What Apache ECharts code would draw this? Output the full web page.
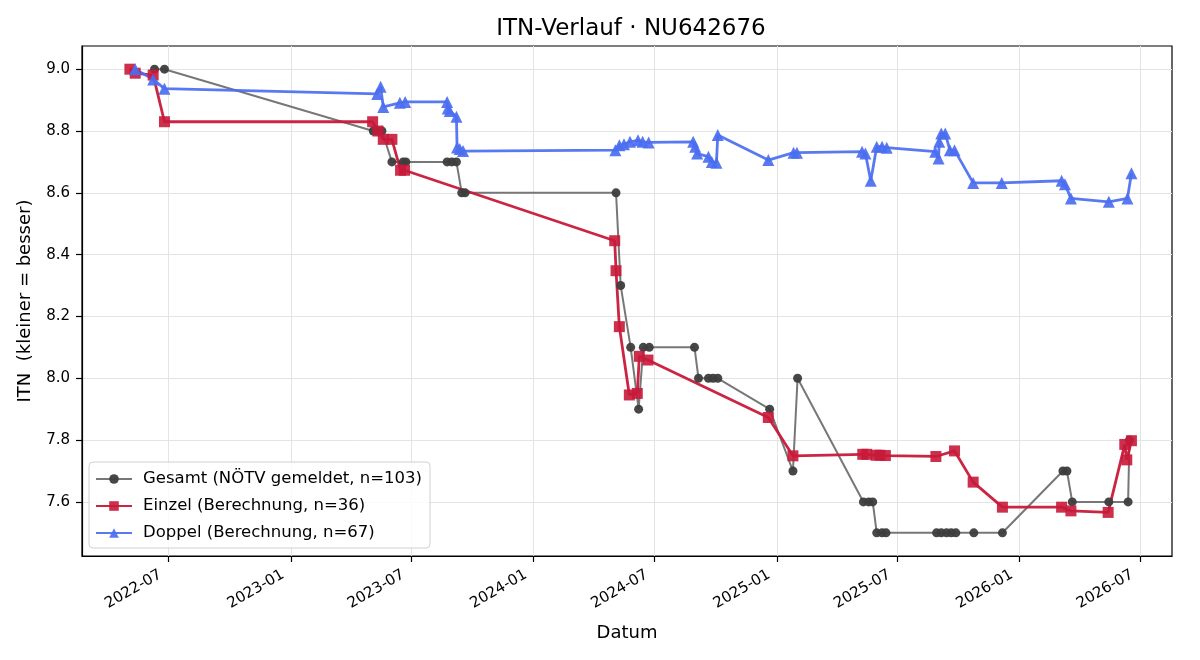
<!DOCTYPE html>
<html lang="de">
<head>
<meta charset="UTF-8">
<title>ITN-Verlauf</title>
<script src="https://cdn.jsdelivr.net/npm/echarts@6.0.0/dist/echarts.min.js"></script>
<style>
  html, body { margin: 0; padding: 0; background: #fff; }
  #chart { width: 1200px; height: 660px; }
</style>
</head>
<body>
<div id="chart"></div>
<script>
// Gesamt (NÖTV gemeldet)
var gesamtDates = [
  '2022-06-10', '2022-06-25', '2023-05-05', '2023-05-12', '2023-05-18', '2023-06-02',
  '2023-06-19', '2023-06-23', '2023-08-24', '2023-08-31', '2023-09-07', '2023-09-15',
  '2023-09-20', '2024-05-04', '2024-05-11', '2024-05-26', '2024-06-07', '2024-06-14',
  '2024-06-23', '2024-08-30', '2024-09-05', '2024-09-20', '2024-09-27', '2024-10-04',
  '2024-12-21', '2025-01-25', '2025-02-01', '2025-05-11', '2025-05-19', '2025-05-25',
  '2025-05-31', '2025-06-08', '2025-06-14', '2025-08-29', '2025-09-05', '2025-09-13',
  '2025-09-20', '2025-09-27', '2025-10-24', '2025-12-06', '2026-03-07', '2026-03-13',
  '2026-03-21', '2026-05-15', '2026-06-13', '2026-06-15'
];
var gesamtItn = [
  9.0, 9.0, 8.8, 8.8, 8.8, 8.7,
  8.7, 8.7, 8.7, 8.7, 8.7, 8.6,
  8.6, 8.6, 8.3, 8.1, 7.9, 8.1,
  8.1, 8.1, 8.0, 8.0, 8.0, 8.0,
  7.9, 7.7, 8.0, 7.6, 7.6, 7.6,
  7.5, 7.5, 7.5, 7.5, 7.5, 7.5,
  7.5, 7.5, 7.5, 7.5, 7.7, 7.7,
  7.6, 7.6, 7.6, 7.8
];

// Einzel (Berechnung)
var einzelDates = [
  '2022-05-04', '2022-05-12', '2022-06-08', '2022-06-25', '2023-05-04', '2023-05-12',
  '2023-05-20', '2023-06-02', '2023-06-15', '2023-06-21', '2024-05-02', '2024-05-04',
  '2024-05-09', '2024-05-24', '2024-06-05', '2024-06-08', '2024-06-21', '2024-12-19',
  '2025-01-25', '2025-05-10', '2025-05-16', '2025-05-30', '2025-06-05', '2025-06-13',
  '2025-08-28', '2025-09-25', '2025-10-23', '2025-12-06', '2026-03-05', '2026-03-19',
  '2026-05-14', '2026-06-08', '2026-06-11', '2026-06-18'
];
var einzelItn = [
  9.0, 8.987, 8.981, 8.83, 8.83, 8.80,
  8.773, 8.773, 8.673, 8.673, 8.445, 8.348,
  8.167, 7.946, 7.951, 8.071, 8.059, 7.873,
  7.749, 7.754, 7.754, 7.751, 7.751, 7.75,
  7.747, 7.765, 7.664, 7.583, 7.583, 7.571,
  7.566, 7.786, 7.736, 7.798
];

// Doppel (Berechnung)
var doppelDates = [
  '2022-05-12', '2022-06-08', '2022-06-25', '2023-05-11', '2023-05-16', '2023-05-20',
  '2023-06-14', '2023-06-22', '2023-08-24', '2023-08-25', '2023-08-28', '2023-09-07',
  '2023-09-08', '2023-09-12', '2023-09-17', '2024-05-03', '2024-05-09', '2024-05-16',
  '2024-05-25', '2024-06-06', '2024-06-13', '2024-06-22', '2024-08-28', '2024-08-31',
  '2024-09-03', '2024-09-20', '2024-09-25', '2024-10-02', '2024-10-04', '2024-12-19',
  '2025-01-26', '2025-01-31', '2025-05-09', '2025-05-14', '2025-05-22', '2025-05-31',
  '2025-06-08', '2025-06-15', '2025-08-27', '2025-09-01', '2025-09-02', '2025-09-05',
  '2025-09-11', '2025-09-18', '2025-09-25', '2025-10-23', '2025-12-05', '2026-03-05',
  '2026-03-10', '2026-03-19', '2026-05-15', '2026-06-12', '2026-06-18'
];
var doppelItn = [
  9.0, 8.967, 8.937, 8.92, 8.943, 8.878,
  8.891, 8.894, 8.894, 8.873, 8.865, 8.846,
  8.747, 8.742, 8.735, 8.738, 8.754, 8.757,
  8.765, 8.77, 8.765, 8.763, 8.765, 8.749,
  8.727, 8.717, 8.70, 8.697, 8.787, 8.706,
  8.73, 8.73, 8.733, 8.727, 8.639, 8.749,
  8.749, 8.746, 8.733, 8.711, 8.765, 8.792,
  8.792, 8.738, 8.738, 8.632, 8.632, 8.639,
  8.628, 8.582, 8.571, 8.582, 8.663
];

var xTicks = ['2022-07-01', '2023-01-01', '2023-07-01', '2024-01-01', '2024-07-01',
              '2025-01-01', '2025-07-01', '2026-01-01', '2026-07-01'];
var yTicks = [7.6, 7.8, 8.0, 8.2, 8.4, 8.6, 8.8, 9.0];

var FONT = 'DejaVu Sans';

function ts(d) {
  return +echarts.time.parse(d);
}

function zip(dates, vals) {
  return dates.map(function (d, i) { return [ts(d), vals[i]]; });
}

var xTickValues = xTicks.map(ts);

var chart = echarts.init(document.getElementById('chart'), null, { renderer: 'canvas' });

chart.setOption({
  animation: false,
  backgroundColor: '#fff',
  textStyle: { fontFamily: FONT },
  title: {
    text: 'ITN-Verlauf · NU642676',
    left: 626,
    top: 13,
    textAlign: 'center',
    textStyle: { fontFamily: FONT, fontSize: 23, fontWeight: 'normal', color: '#000' }
  },
  grid: {
    left: 82, right: 28, top: 46, bottom: 104,
    show: true, borderColor: '#000', borderWidth: 1.2
  },
  legend: {
    left: 89,
    top: 462,
    orient: 'vertical',
    itemWidth: 36,
    itemHeight: 12,
    itemGap: 9,
    padding: [8, 8, 6, 6],
    backgroundColor: 'rgba(255,255,255,0.8)',
    borderColor: '#d0d0d0',
    borderWidth: 1,
    borderRadius: 4,
    textStyle: { fontFamily: FONT, fontSize: 16.5, color: '#000', padding: [0, 0, 0, 6], lineHeight: 18 },
    data: ['Gesamt (NÖTV gemeldet, n=103)', 'Einzel (Berechnung, n=36)', 'Doppel (Berechnung, n=67)']
  },
  xAxis: {
    type: 'value',
    min: ts('2022-02-21'),
    max: ts('2026-08-18'),
    name: 'Datum',
    nameLocation: 'middle',
    nameGap: 68,
    nameTextStyle: { fontFamily: FONT, fontSize: 18, color: '#000' },
    axisLine: { show: true, lineStyle: { color: '#000', width: 1.2 } },
    axisTick: { show: true, length: 6, customValues: xTickValues, lineStyle: { color: '#000', width: 1.2 } },
    axisLabel: {
      customValues: xTickValues,
      rotate: 30,
      margin: 13,
      padding: [0, 9, 0, 0],
      fontFamily: FONT,
      fontSize: 15,
      color: '#000',
      hideOverlap: false,
      formatter: function (v) { return echarts.time.format(v, '{yyyy}-{MM}', false); }
    },
    splitLine: { show: true, customValues: xTickValues, lineStyle: { color: '#e4e4e4', width: 1 } }
  },
  yAxis: {
    type: 'value',
    min: 7.425,
    max: 9.075,
    splitNumber: 8,
    name: 'ITN  (kleiner = besser)',
    nameLocation: 'middle',
    nameGap: 48,
    nameTextStyle: { fontFamily: FONT, fontSize: 18, color: '#000' },
    axisLine: { show: true, lineStyle: { color: '#000', width: 1.2 } },
    axisTick: { show: true, length: 6, customValues: yTicks, lineStyle: { color: '#000', width: 1.2 } },
    axisLabel: {
      customValues: yTicks,
      margin: 12,
      fontFamily: FONT,
      fontSize: 15,
      color: '#000',
      formatter: function (v) { return v.toFixed(1); }
    },
    splitLine: { show: true, customValues: yTicks, lineStyle: { color: '#e4e4e4', width: 1 } }
  },
  series: [
    {
      name: 'Gesamt (NÖTV gemeldet, n=103)',
      type: 'line',
      data: zip(gesamtDates, gesamtItn),
      symbol: 'circle',
      symbolSize: 9,
      showAllSymbol: true,
      lineStyle: { color: '#777777', width: 2 },
      itemStyle: { color: '#3d3d3d', opacity: 0.95 }
    },
    {
      name: 'Einzel (Berechnung, n=36)',
      type: 'line',
      data: zip(einzelDates, einzelItn),
      symbol: 'rect',
      symbolSize: 11,
      showAllSymbol: true,
      lineStyle: { color: '#c8193a', width: 2.8, opacity: 0.95 },
      itemStyle: { color: '#c8193a', opacity: 0.9 }
    },
    {
      name: 'Doppel (Berechnung, n=67)',
      type: 'line',
      data: zip(doppelDates, doppelItn),
      symbol: 'triangle',
      symbolSize: 12,
      showAllSymbol: true,
      lineStyle: { color: '#4b6ef0', width: 2.8, opacity: 0.92 },
      itemStyle: { color: '#4b6ef0', opacity: 0.92 }
    }
  ]
});
</script>
</body>
</html>
